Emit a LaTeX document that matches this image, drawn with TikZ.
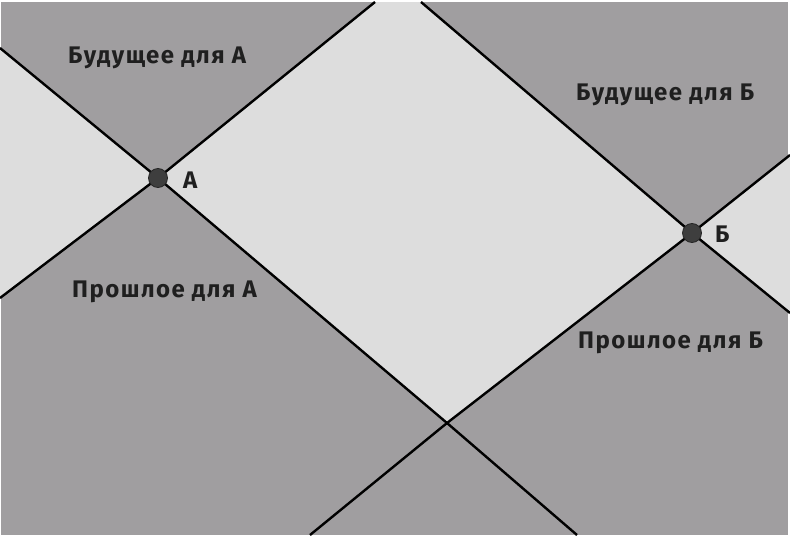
\documentclass[tikz,border=0pt]{standalone}
\usepackage{fontspec}
\setmainfont{Fira Sans}
\newfontfamily\labelfont[LetterSpace=6]{Fira Sans}
\usepackage{tikz}
\usetikzlibrary{positioning}
\definecolor{darkgray}{RGB}{160,158,160}
\definecolor{lightgray}{RGB}{221,221,221}
\definecolor{dotgray}{RGB}{62,62,62}
\tikzset{
  cone/.style={black, line width=2.4pt},
  event/.style={circle, fill=dotgray, draw=black!85, line width=0.8pt, minimum size=19pt, inner sep=0pt},
  lbl/.style={anchor=base west, inner sep=0pt, text=black!88, font=\labelfont\bfseries\fontsize{24}{25}\selectfont}
}

\begin{document}
\begin{tikzpicture}[x=1pt, y=-1pt]
\useasboundingbox (0,0) rectangle (790,538);
\fill[white] (0,0) rectangle (790,538);
\fill[darkgray] (1,2) rectangle (788,535);
% border points
\coordinate (lt) at (0,48);
\coordinate (lb) at (0,298);
\coordinate (ta) at (375,2);
\coordinate (tb) at (421,2);
\coordinate (rt) at (790,155);
\coordinate (rb) at (790,313);
\coordinate (bl) at (310,535);
\coordinate (br) at (577,535);
\coordinate (X) at (447,423);
% events
\coordinate (A) at (158,178);
\coordinate (B) at (692,233);
% light regions
\fill[lightgray] (lt) -- (A) -- (lb) -- cycle;
\fill[lightgray] (A) -- (ta) -- (tb) -- (B) -- (X) -- cycle;
\fill[lightgray] (rt) -- (B) -- (rb) -- cycle;
% light cones
\draw[cone] (lt) -- (A) -- (X) -- (br);
\draw[cone] (lb) -- (A) -- (ta);
\draw[cone] (tb) -- (B) -- (rb);
\draw[cone] (bl) -- (X) -- (B) -- (rt);
\node[event] (a) at (A) {};
\node[event] (b) at (B) {};
\node[lbl] (la) at (183,188) {А};
\node[lbl] (lbb) at (715,242) {Б};
\node[lbl] (fa) at (68,63) {Будущее для А};
\node[lbl] (pa) at (72,297) {Прошлое для А};
\node[lbl] (fb) at (576,100) {Будущее для Б};
\node[lbl] (pb) at (578,348) {Прошлое для\ Б};
\end{tikzpicture}
\end{document}
